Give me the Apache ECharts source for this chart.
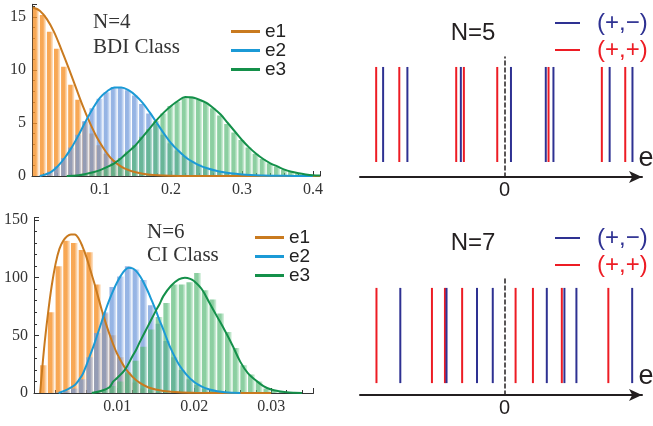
<!DOCTYPE html>
<html>
<head>
<meta charset="utf-8">
<script src="https://cdn.jsdelivr.net/npm/echarts@6.0.0/dist/echarts.min.js"></script>
<style>
html, body { margin: 0; padding: 0; background: #fff; }
#chart { width: 653px; height: 426px; }
</style>
</head>
<body>
<div id="chart"></div>
<script>
// ---- top-left: N=4, BDI class (bins of 0.01 starting at 0.005)
const binStartA = 0.005
const binWidthA = 0.01
const e1BarsA = [15.8, 15.2, 13.6, 12.0, 10.3, 8.6, 7.2, 5.1, 4.0, 2.9, 2.1, 1.5, 1.0, 0.7, 0.5, 0.3, 0.2, 0.15, 0.1, 0.08, 0.05, 0.04, 0.03, 0.02]
const e2BarsA = [0, 0.1, 0.4, 0.9, 1.7, 2.7, 3.9, 5.2, 6.4, 7.3, 7.9, 8.4, 8.4, 8.1, 7.6, 6.8, 5.9, 4.9, 3.9, 3.1, 2.4, 1.9, 1.4, 1.1, 0.8, 0.6, 0.45, 0.35, 0.25, 0.2, 0.15, 0.1, 0.08, 0.05, 0.04, 0.03, 0.02, 0.01, 0, 0]
const e3BarsA = [0, 0, 0, 0, 0, 0.05, 0.1, 0.2, 0.35, 0.55, 0.85, 1.2, 1.7, 2.3, 2.9, 3.7, 4.4, 5.2, 5.9, 6.6, 7.0, 7.4, 7.5, 7.2, 6.9, 6.4, 5.7, 4.9, 4.1, 3.4, 2.7, 2.1, 1.6, 1.2, 0.9, 0.6, 0.4, 0.25, 0.15, 0.1]
const e1CurveA = [[0.005, 15.9], [0.015, 15.6], [0.025, 14.8], [0.035, 13.6], [0.045, 12.0], [0.055, 10.3], [0.065, 8.5], [0.075, 6.7], [0.085, 5.1], [0.095, 3.7], [0.105, 2.6], [0.115, 1.7], [0.125, 1.1], [0.135, 0.7], [0.15, 0.35], [0.17, 0.12], [0.2, 0.03], [0.25, 0], [0.41, 0]]
const e2CurveA = [[0.015, 0], [0.03, 0.35], [0.04, 0.9], [0.05, 1.7], [0.06, 2.7], [0.07, 3.9], [0.08, 5.2], [0.09, 6.4], [0.10, 7.4], [0.11, 8.0], [0.12, 8.35], [0.13, 8.35], [0.14, 8.1], [0.15, 7.6], [0.16, 6.9], [0.17, 6.0], [0.18, 5.0], [0.19, 4.0], [0.20, 3.1], [0.21, 2.4], [0.22, 1.8], [0.23, 1.35], [0.24, 1.0], [0.25, 0.75], [0.27, 0.4], [0.30, 0.15], [0.33, 0.05], [0.36, 0.02], [0.40, 0]]
const e3CurveA = [[0.053, 0], [0.07, 0.08], [0.08, 0.2], [0.09, 0.35], [0.10, 0.55], [0.11, 0.85], [0.12, 1.2], [0.13, 1.7], [0.14, 2.3], [0.15, 2.9], [0.16, 3.7], [0.17, 4.5], [0.18, 5.3], [0.19, 6.0], [0.20, 6.6], [0.21, 7.1], [0.22, 7.45], [0.23, 7.4], [0.24, 7.2], [0.25, 6.9], [0.26, 6.4], [0.27, 5.8], [0.28, 5.0], [0.29, 4.2], [0.30, 3.4], [0.31, 2.7], [0.32, 2.1], [0.33, 1.6], [0.34, 1.2], [0.35, 0.9], [0.36, 0.6], [0.37, 0.4], [0.38, 0.25], [0.39, 0.15], [0.40, 0.08], [0.41, 0.05]]

// ---- bottom-left: N=6, CI class (bins of 0.001 starting at 0)
const binStartB = 0
const binWidthB = 0.001
const e1BarsB = [24, 70, 110, 132, 130, 124, 122, 94, 69, 50, 31, 17, 9, 4, 2, 1, 0.5, 0.3]
const e2BarsB = [0, 0, 0.5, 1.5, 4, 12, 31, 52, 70, 92, 101, 110, 107, 98, 76, 60, 45, 31, 20, 12, 7, 4, 2, 1]
const e3BarsB = [0, 0, 0, 0, 0, 0, 0, 1, 3, 6, 10, 18, 28, 40, 55, 66, 78, 94, 94, 96, 104, 89, 81, 69, 53, 39, 24, 16, 10, 4, 2, 1, 0.5, 0.3]
const e1CurveB = [[0, 0], [0.0005, 38], [0.001, 68], [0.0015, 93], [0.002, 112], [0.0025, 125], [0.003, 132], [0.0035, 136], [0.004, 137.5], [0.0045, 137.5], [0.005, 134], [0.0055, 127], [0.006, 118], [0.0065, 107], [0.007, 96], [0.0075, 84], [0.008, 72], [0.0085, 61], [0.009, 51], [0.0095, 42], [0.010, 34], [0.011, 22], [0.012, 14], [0.013, 8.5], [0.014, 5], [0.015, 3], [0.016, 1.8], [0.018, 0.6], [0.02, 0.2], [0.025, 0], [0.03, 0]]
const e2CurveB = [[0.0024, 0], [0.0035, 3], [0.0045, 7], [0.005, 11], [0.0055, 16], [0.006, 24], [0.0065, 33], [0.007, 42], [0.0075, 52], [0.008, 62], [0.0085, 72], [0.009, 81], [0.0095, 89], [0.010, 96], [0.0105, 102], [0.011, 106.5], [0.0115, 108.5], [0.012, 108], [0.0125, 105.5], [0.013, 101], [0.0135, 95], [0.014, 88], [0.0145, 80], [0.015, 72], [0.0155, 63], [0.016, 55], [0.0165, 46], [0.017, 38], [0.018, 25], [0.019, 16], [0.020, 9.5], [0.021, 5.5], [0.022, 3], [0.023, 1.5], [0.024, 0.6], [0.025, 0.2], [0.026, 0]]
const e3CurveB = [[0.0067, 0], [0.008, 2], [0.009, 5], [0.0095, 10], [0.010, 13], [0.011, 20], [0.012, 32], [0.0125, 38], [0.013, 45], [0.014, 58], [0.015, 71], [0.0155, 77], [0.016, 84], [0.017, 93], [0.018, 98.5], [0.0188, 100], [0.0195, 99], [0.020, 97], [0.021, 90], [0.022, 78], [0.023, 66], [0.024, 54], [0.025, 41], [0.026, 27], [0.027, 17], [0.028, 11], [0.029, 6], [0.030, 3], [0.031, 1.5], [0.032, 0.6], [0.033, 0.2], [0.034, 0]]

// ---- right: level positions (axis units, 0 in the middle)
const redN5 = [-0.888, -0.728, -0.334, -0.281, -0.05, 0.305, 0.674, 0.836]
const blueN5 = [-0.84, -0.672, -0.302, 0.045, 0.286, 0.339, 0.728, 0.886]
const redN7 = [-0.886, -0.502, -0.412, -0.293, 0.077, 0.197, 0.397, 0.719]
const blueN7 = [-0.721, -0.401, -0.19, -0.081, 0.293, 0.415, 0.498, 0.884]

const fontSerif = '"Liberation Serif", "DejaVu Serif", serif'
const fontSans = '"Liberation Sans", Arial, sans-serif'
const c1 = '#c97a1f', c2 = '#1b9ad6', c3 = '#14904a'
const cBlue = '#2e3192', cRed = '#ed1c24'

function bins(arr, start, w) {
  return arr.map((h, i) => [start + i * w, h])
}

// histogram bar, shaded left to right like the original
function histItem(w, base, fade) {
  return function (params, api) {
    const h = api.value(1)
    if (!h) return null
    const a = api.coord([api.value(0), h])
    const b = api.coord([api.value(0) + w, 0])
    return {
      type: 'rect',
      shape: {x: a[0], y: a[1], width: Math.max(b[0] - a[0] - 1, 0.5), height: b[1] - a[1]},
      style: {
        fill: new echarts.graphic.LinearGradient(0, 0, 1, 0, [
          {offset: 0, color: base},
          {offset: 0.55, color: base},
          {offset: 1, color: fade}
        ])
      }
    }
  }
}

// vertical level line
function levelItem(y0, y1) {
  return function (params, api) {
    const a = api.coord([api.value(0), y0])
    const b = api.coord([api.value(0), y1])
    return {
      type: 'line',
      shape: {x1: a[0], y1: a[1], x2: b[0], y2: b[1]},
      style: {stroke: api.visual('color'), lineWidth: 2}
    }
  }
}

function leftX(gridIndex, min, max) {
  return {
    type: 'value', gridIndex: gridIndex, min: min, max: max, splitNumber: 4,
    axisLine: {onZero: false, lineStyle: {color: '#333', width: 1}},
    axisTick: {inside: true, length: 5, lineStyle: {color: '#333'}},
    minorTick: {show: true, splitNumber: 5, length: 3, lineStyle: {color: '#333'}},
    axisLabel: {
      showMinLabel: false, showMaxLabel: false,
      formatter: v => (v > 0 ? String(v) : ''),
      fontFamily: fontSerif, fontSize: 16, color: '#333', margin: 6
    },
    splitLine: {show: false}
  }
}
function leftY(gridIndex, max, interval) {
  return {
    type: 'value', gridIndex: gridIndex, min: 0, max: max, interval: interval,
    axisLine: {show: true, onZero: false, lineStyle: {color: '#333', width: 1}},
    axisTick: {show: true, inside: true, length: 5, lineStyle: {color: '#333'}},
    minorTick: {show: true, splitNumber: 5, length: 3, lineStyle: {color: '#333'}},
    axisLabel: {showMaxLabel: false, fontFamily: fontSerif, fontSize: 16, color: '#333', margin: 6},
    splitLine: {show: false}
  }
}
function rightX(gridIndex) {
  return {
    type: 'value', gridIndex: gridIndex, min: -1, max: 0.952, interval: 0.5,
    axisLine: {symbol: ['none', 'arrow'], symbolSize: [9, 13], lineStyle: {color: '#231f20', width: 2}},
    axisTick: {show: false},
    axisLabel: {
      formatter: v => (v === 0 ? '0' : ''),
      fontFamily: fontSans, fontSize: 20, color: '#231f20', margin: 3
    },
    splitLine: {show: false}
  }
}
function rightY(gridIndex) {
  return {
    type: 'value', gridIndex: gridIndex, min: 0, max: 1,
    axisLine: {show: true, onZero: true, lineStyle: {color: '#231f20', width: 1.5, type: [4, 3]}},
    axisTick: {show: false},
    axisLabel: {show: false},
    splitLine: {show: false}
  }
}

function histSeries(name, idx, arr, start, w, base, fade) {
  return {
    name: name, type: 'custom', xAxisIndex: idx, yAxisIndex: idx, clip: true,
    renderItem: histItem(w, base, fade),
    encode: {x: 0, y: 1},
    data: bins(arr, start, w),
    z: 1
  }
}
function curveSeries(name, idx, data, color) {
  return {
    name: name, type: 'line', xAxisIndex: idx, yAxisIndex: idx,
    data: data, smooth: 0.35, showSymbol: false,
    lineStyle: {color: color, width: 2}, itemStyle: {color: color},
    z: 3
  }
}
function levelSeries(name, idx, arr, color, y0, y1) {
  return {
    name: name, type: 'custom', xAxisIndex: idx, yAxisIndex: idx,
    renderItem: levelItem(y0, y1),
    itemStyle: {color: color},
    encode: {x: 0},
    data: arr.map(v => [v]),
    z: 2
  }
}

const orangeBase = 'rgba(246,146,42,0.8)', orangeFade = 'rgba(250,196,140,0.45)'
const blueBase = 'rgba(110,152,218,0.72)', blueFade = 'rgba(175,200,240,0.45)'
const greenBase = 'rgba(80,182,112,0.66)', greenFade = 'rgba(165,222,182,0.45)'

function sideLegend(left, top, rowH) {
  return {
    orient: 'vertical', left: left, top: top, itemGap: 0,
    itemWidth: 29, itemHeight: 3, icon: 'rect',
    data: ['e1', 'e2', 'e3'],
    textStyle: {fontFamily: fontSans, fontSize: 19, color: '#222', lineHeight: rowH},
    selectedMode: false
  }
}
function levelLegend(top) {
  return {
    orient: 'vertical', left: 550, top: top, itemGap: 0,
    itemWidth: 25, itemHeight: 2, icon: 'rect',
    data: [
      {name: '(+,\u2212)', textStyle: {color: cBlue}},
      {name: '(+,+)', textStyle: {color: cRed}}
    ],
    textStyle: {fontFamily: fontSans, fontSize: 24, lineHeight: 27, padding: [0, 0, 0, 12]},
    selectedMode: false
  }
}

const option = {
  animation: false,
  backgroundColor: '#fff',
  grid: [
    {left: 32, top: 4.3, width: 288, height: 171.7},
    {left: 34, top: 217.7, width: 279.5, height: 175.3},
    {left: 360, top: 57, width: 282, height: 120},
    {left: 360, top: 276, width: 282, height: 119}
  ],
  xAxis: [leftX(0, 0.004, 0.41), leftX(1, -0.0008, 0.0355), rightX(2), rightX(3)],
  yAxis: [leftY(0, 16.2, 5), leftY(1, 152, 50), rightY(2), rightY(3)],
  legend: [sideLegend(226, 17, 15.5), sideLegend(250, 223, 15.5), levelLegend(4.5), levelLegend(219.5)],
  graphic: [
    {type: 'text', left: 93, top: 12, style: {text: 'N=4', fontFamily: fontSerif, fontSize: 21, fill: '#333'}},
    {type: 'text', left: 93, top: 37, style: {text: 'BDI Class', fontFamily: fontSerif, fontSize: 21, fill: '#333'}},
    {type: 'text', left: 147, top: 222, style: {text: 'N=6', fontFamily: fontSerif, fontSize: 21, fill: '#333'}},
    {type: 'text', left: 147, top: 245, style: {text: 'CI Class', fontFamily: fontSerif, fontSize: 21, fill: '#333'}},
    {type: 'text', x: 473, y: 33, style: {text: 'N=5', align: 'center', verticalAlign: 'middle', fontFamily: fontSans, fontSize: 24, fill: '#231f20'}},
    {type: 'text', x: 473, y: 243, style: {text: 'N=7', align: 'center', verticalAlign: 'middle', fontFamily: fontSans, fontSize: 24, fill: '#231f20'}},
    {type: 'text', x: 646, y: 159, style: {text: 'e', align: 'center', verticalAlign: 'middle', fontFamily: fontSans, fontSize: 27, fill: '#231f20'}},
    {type: 'text', x: 646, y: 377, style: {text: 'e', align: 'center', verticalAlign: 'middle', fontFamily: fontSans, fontSize: 27, fill: '#231f20'}}
  ],
  series: [
    histSeries('h1a', 0, e1BarsA, binStartA, binWidthA, orangeBase, orangeFade),
    histSeries('h2a', 0, e2BarsA, binStartA, binWidthA, blueBase, blueFade),
    histSeries('h3a', 0, e3BarsA, binStartA, binWidthA, greenBase, greenFade),
    curveSeries('e1', 0, e1CurveA, c1),
    curveSeries('e2', 0, e2CurveA, c2),
    curveSeries('e3', 0, e3CurveA, c3),

    histSeries('h1b', 1, e1BarsB, binStartB, binWidthB, orangeBase, orangeFade),
    histSeries('h2b', 1, e2BarsB, binStartB, binWidthB, blueBase, blueFade),
    histSeries('h3b', 1, e3BarsB, binStartB, binWidthB, greenBase, greenFade),
    curveSeries('e1', 1, e1CurveB, c1),
    curveSeries('e2', 1, e2CurveB, c2),
    curveSeries('e3', 1, e3CurveB, c3),

    levelSeries('(+,+)', 2, redN5, cRed, 0.125, 0.917),
    levelSeries('(+,\u2212)', 2, blueN5, cBlue, 0.125, 0.917),
    levelSeries('(+,+)', 3, redN7, cRed, 0.10, 0.90),
    levelSeries('(+,\u2212)', 3, blueN7, cBlue, 0.10, 0.90)
  ]
}

const myChart = echarts.init(document.getElementById('chart'))
myChart.setOption(option)
</script>
</body>
</html>
